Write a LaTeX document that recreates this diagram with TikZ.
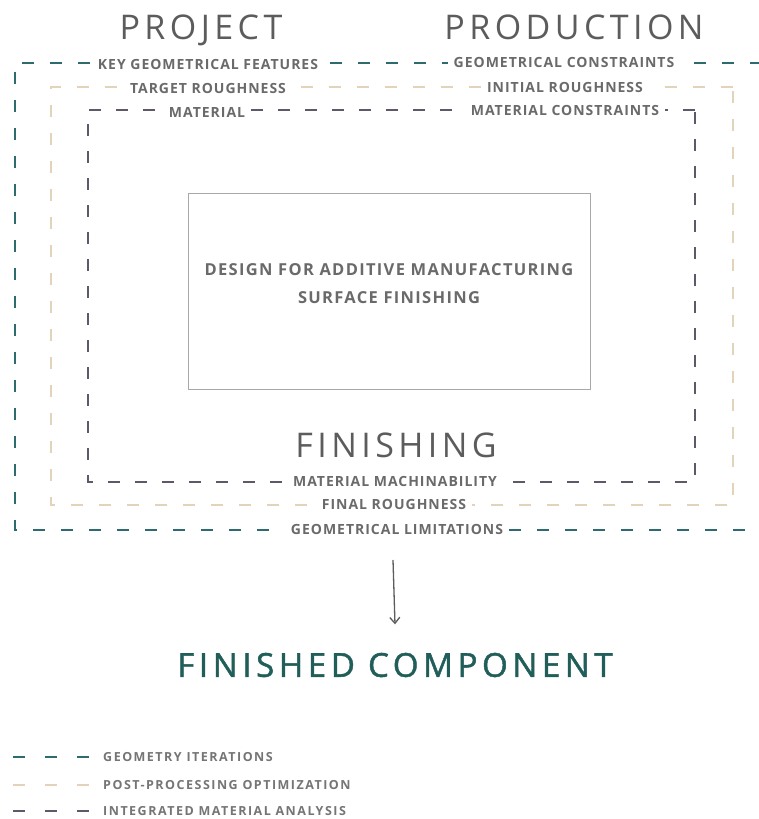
\documentclass[tikz,border=0pt]{standalone}
\usepackage{fontspec}
\setmainfont{Open Sans}
\usetikzlibrary{arrows.meta}
\definecolor{geo}{HTML}{2D6B6E}
\definecolor{post}{HTML}{E4D3BB}
\definecolor{mat}{HTML}{5E5868}
\definecolor{txt}{HTML}{5C5C5C}
\definecolor{lbltxt}{HTML}{6A6A6A}
\definecolor{legtxt}{HTML}{757575}
\definecolor{boxline}{HTML}{A8A8A8}
\definecolor{fin}{HTML}{215E59}
\tikzset{
  geoline/.style={draw=geo, line width=1.3pt, dash pattern=on 12pt off 16pt},
  postline/.style={draw=post, line width=1.1pt, dash pattern=on 12pt off 16pt},
  matline/.style={draw=mat, line width=1.2pt, dash pattern=on 12pt off 15pt},
  lbl/.style={fill=white, text=lbltxt, font=\fontsize{14}{16}\selectfont\bfseries\addfontfeatures{LetterSpace=7}, inner xsep=6pt, inner ysep=1pt},
  title/.style={text=txt, font=\fontsize{34}{40}\selectfont\addfontfeatures{LetterSpace=13}},
  legtext/.style={text=legtxt, font=\fontsize{12.5}{14}\selectfont\bfseries\addfontfeatures{LetterSpace=12}, anchor=west, inner xsep=0pt}
}
\begin{document}
\begin{tikzpicture}[x=1pt,y=-1pt]
\useasboundingbox (0,0) rectangle (758,819);
\fill[white] (0,0) rectangle (758,819);

% headings
\node[title] (project) at (201,30) {PROJECT};
\node[title] (production) at (574,27) {PRODUCTION};

% nested dashed frames
\draw[geoline] (762,63) -- (15,63) -- (15,530) -- (762,530);
\draw[postline] (733,87) -- (51,87) -- (51,505) -- (733,505) -- cycle;
\draw[matline] (695,110) -- (88,110) -- (88,482) -- (695,482) -- cycle;

% frame labels
\node[lbl] (kgf) at (208,64) {KEY GEOMETRICAL FEATURES};
\node[lbl] (gc) at (564,62) {GEOMETRICAL CONSTRAINTS};
\node[lbl] (tr) at (208,88) {TARGET ROUGHNESS};
\node[lbl] (ir) at (565,87) {INITIAL ROUGHNESS};
\node[lbl] (mt) at (207,112) {MATERIAL};
\node[lbl] (mc) at (565,110) {MATERIAL CONSTRAINTS};
\node[lbl] (mm) at (395,481) {MATERIAL MACHINABILITY};
\node[lbl] (fr) at (394,504) {FINAL ROUGHNESS};
\node[lbl] (gl) at (397,529) {GEOMETRICAL LIMITATIONS};

% core box
\node[draw=boxline, line width=1pt, minimum width=402pt, minimum height=196pt] (core) at (389,291) {};
\node[text=lbltxt, align=center, font=\fontsize{16.5}{28}\selectfont\bfseries\addfontfeatures{LetterSpace=8}]
      (coretext) at (389,284) {DESIGN FOR ADDITIVE MANUFACTURING\\SURFACE FINISHING};

\node[title] (finishing) at (396,445) {FINISHING};

% result
\coordinate (arrowtop) at (393,560);
\node[text=fin, font=\fontsize{33}{38}\selectfont\addfontfeatures{LetterSpace=14,FakeBold=1.4}] (result) at (395,665) {FINISHED COMPONENT};
\draw[draw=txt, line width=1.3pt, -{Straight Barb[length=6pt,width=10pt]}] (arrowtop) -- ([yshift=25pt]result.north);

% legend
\draw[geoline, dash pattern=on 12pt off 20pt] (13,757) coordinate (g1) -- (89,757) coordinate (g2);
\node[legtext] (lg) at (103,757) {GEOMETRY ITERATIONS};
\draw[postline, dash pattern=on 12pt off 20pt] (13,785) coordinate (p1) -- (89,785) coordinate (p2);
\node[legtext] (lp) at (103,785) {POST-PROCESSING OPTIMIZATION};
\draw[matline, dash pattern=on 12pt off 20pt] (13,811) coordinate (m1) -- (89,811) coordinate (m2);
\node[legtext] (lm) at (103,811) {INTEGRATED MATERIAL ANALYSIS};
\end{tikzpicture}
\end{document}
